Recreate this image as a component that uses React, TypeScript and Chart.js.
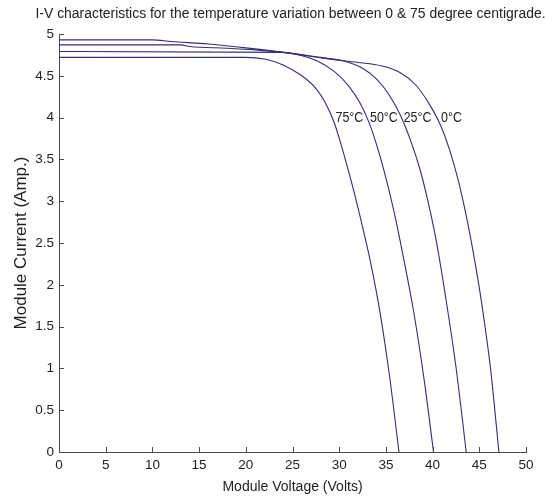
import React, { useEffect, useRef } from "react";
import { Chart, registerables } from "chart.js";

Chart.register(...registerables);

// Axis ticks
const xTicks = [0, 5, 10, 15, 20, 25, 30, 35, 40, 45, 50];
const yTicks = [0, 0.5, 1, 1.5, 2, 2.5, 3, 3.5, 4, 4.5, 5];

// Series (Module Voltage in V, Module Current in A)
const seriesNames = ["0°C", "25°C", "50°C", "75°C"];

const v0C = [0, 10, 12, 16, 19.5, 24, 29, 32, 34.5, 36.5, 38.2, 39.6, 40.8, 41.8, 42.7, 43.5, 44.3, 45.2, 46.2, 47.1];
const i0C = [4.93, 4.93, 4.91, 4.88, 4.84, 4.78, 4.7, 4.66, 4.62, 4.54, 4.39, 4.17, 3.92, 3.62, 3.27, 2.88, 2.42, 1.82, 1.0, 0];

const v25C = [0, 13, 14, 18, 21, 24, 28, 30.4, 32.5, 34.0, 35.3, 36.5, 37.6, 38.6, 39.5, 40.4, 41.4, 42.5, 43.6];
const i25C = [4.87, 4.87, 4.85, 4.83, 4.81, 4.78, 4.72, 4.68, 4.59, 4.46, 4.28, 4.04, 3.74, 3.4, 3.0, 2.52, 1.85, 1.02, 0];

const v50C = [0, 24, 26, 27.6, 29.5, 31.0, 32.2, 33.2, 34.1, 35.0, 35.9, 36.8, 38.0, 39.1, 40.1];
const i50C = [4.79, 4.78, 4.74, 4.68, 4.55, 4.38, 4.18, 3.94, 3.64, 3.28, 2.86, 2.37, 1.66, 0.86, 0];

const v75C = [0, 20, 22, 24, 26, 27.5, 28.5, 29.5, 30.5, 31.5, 32.4, 33.3, 34.4, 35.4, 36.4];
const i75C = [4.72, 4.72, 4.7, 4.63, 4.5, 4.35, 4.18, 3.93, 3.56, 3.15, 2.74, 2.3, 1.65, 0.9, 0];

// Curve annotation anchors (left edge of text, vertical middle)
const labelTexts = ["75°C", "50°C", "25°C", "0°C"];
const labelV = [29.6, 33.3, 36.9, 40.9];
const labelI = [4.0, 4.0, 4.0, 4.0];

const titleText = "I-V characteristics for the temperature variation between 0 & 75 degree centigrade.";
const xTitle = "Module Voltage (Volts)";
const yTitle = "Module Current (Amp.)";

const FONT = "'Liberation Sans', Arial, Helvetica, sans-serif";
const LINE_COLOR = "#2e2e84";
const AXIS_COLOR = "#4a4a4a";
const TEXT_COLOR = "#222222";

const toPts = (v: number[], i: number[]) => v.map((x, k) => ({ x, y: i[k] }));

const insideTicksAndLabels = {
  id: "insideTicksAndLabels",
  afterDraw(chart: any) {
    const { ctx, chartArea } = chart;
    const xs = chart.scales.x;
    const ys = chart.scales.y;
    ctx.save();
    ctx.strokeStyle = AXIS_COLOR;
    ctx.lineWidth = 1;
    ctx.beginPath();
    xTicks.forEach((t) => {
      const px = Math.round(xs.getPixelForValue(t)) + 0.5;
      ctx.moveTo(px, chartArea.bottom);
      ctx.lineTo(px, chartArea.bottom - 5);
    });
    yTicks.forEach((t) => {
      const py = Math.round(ys.getPixelForValue(t)) + 0.5;
      ctx.moveTo(chartArea.left, py);
      ctx.lineTo(chartArea.left + 5, py);
    });
    ctx.stroke();

    // Curve annotations (slightly condensed, as in the reference)
    ctx.fillStyle = TEXT_COLOR;
    ctx.font = `15px ${FONT}`;
    ctx.textAlign = "left";
    ctx.textBaseline = "middle";
    labelTexts.forEach((txt, k) => {
      const w = ctx.measureText(txt).width * 0.83;
      ctx.fillText(txt, xs.getPixelForValue(labelV[k]), ys.getPixelForValue(labelI[k]), w);
    });

    // Title centred over the axes, condensed to the reference width
    ctx.font = `15.5px ${FONT}`;
    ctx.textAlign = "center";
    ctx.textBaseline = "middle";
    ctx.fillText(titleText, (chartArea.left + chartArea.right) / 2 - 2, 14, 510);
    ctx.restore();
  },
};

export default function App() {
  const ref = useRef<HTMLCanvasElement | null>(null);

  useEffect(() => {
    if (!ref.current) return;
    const series = [toPts(v0C, i0C), toPts(v25C, i25C), toPts(v50C, i50C), toPts(v75C, i75C)];
    const chart = new Chart(ref.current, {
      type: "line",
      data: {
        datasets: series.map((pts, k) => ({
          label: seriesNames[k],
          data: pts,
          borderColor: LINE_COLOR,
          backgroundColor: LINE_COLOR,
          borderWidth: 1.1,
          pointRadius: 0,
          fill: false,
          cubicInterpolationMode: "monotone" as const,
        })),
      },
      options: {
        animation: false,
        responsive: false,
        devicePixelRatio: 1,
        parsing: false as any,
        layout: { padding: { top: 34, right: 30, left: 0, bottom: 0 } },
        plugins: {
          legend: { display: false },
          tooltip: { enabled: false },
          title: { display: false },
        },
        scales: {
          x: {
            type: "linear",
            min: 0,
            max: 50,
            afterBuildTicks: (s: any) => {
              s.ticks = xTicks.map((v) => ({ value: v }));
            },
            afterFit: (s: any) => {
              s.height = 47;
            },
            grid: { display: false, drawTicks: false },
            border: { display: true, color: AXIS_COLOR, width: 1 },
            ticks: {
              color: TEXT_COLOR,
              font: { family: FONT, size: 13.5, lineHeight: 1.2 },
              padding: 5,
              maxRotation: 0,
              autoSkip: false,
              callback: (v: any) => String(v),
            },
            title: {
              display: true,
              text: xTitle,
              color: TEXT_COLOR,
              font: { family: FONT, size: 14, lineHeight: 1.2 },
              padding: { top: 0, bottom: 3.6 },
            },
          },
          y: {
            type: "linear",
            min: 0,
            max: 5,
            afterBuildTicks: (s: any) => {
              s.ticks = yTicks.map((v) => ({ value: v }));
            },
            afterFit: (s: any) => {
              s.width = 59;
            },
            grid: { display: false, drawTicks: false },
            border: { display: true, color: AXIS_COLOR, width: 1 },
            ticks: {
              color: TEXT_COLOR,
              font: { family: FONT, size: 13.5, lineHeight: 1.2 },
              padding: 5,
              autoSkip: false,
              callback: (v: any) => String(v),
            },
            title: {
              display: true,
              text: yTitle,
              color: TEXT_COLOR,
              font: { family: FONT, size: 17, lineHeight: 1.2 },
              padding: { top: 11, bottom: 0 },
            },
          },
        },
      },
      plugins: [insideTicksAndLabels],
    });
    return () => chart.destroy();
  }, []);

  return (
    <div style={{ position: "fixed", left: 0, top: 0, width: 556, height: 499, background: "#fff" }}>
      <canvas ref={ref} width={556} height={499} style={{ display: "block", width: 556, height: 499 }} />
    </div>
  );
}
